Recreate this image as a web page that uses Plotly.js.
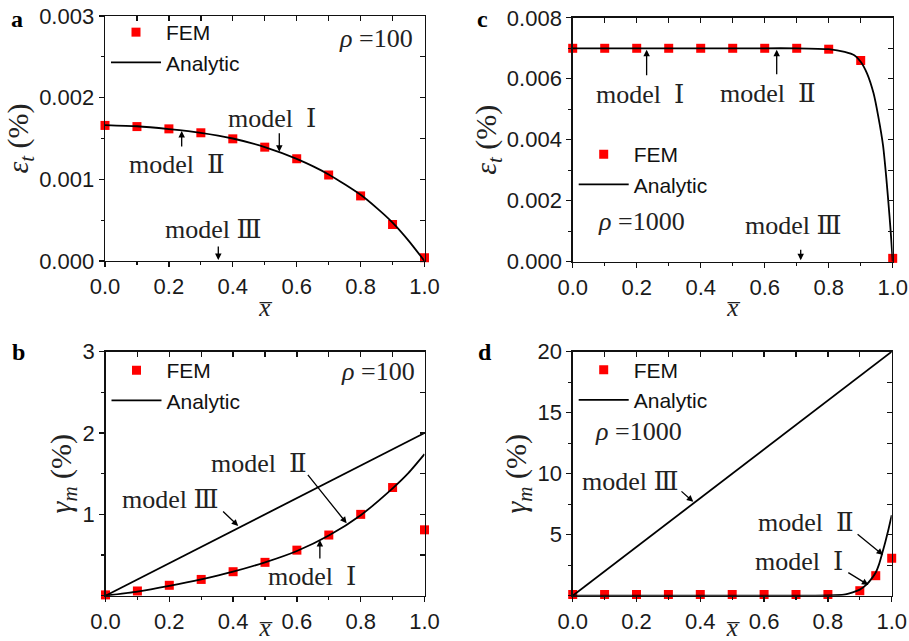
<!DOCTYPE html>
<html>
<head>
<meta charset="utf-8">
<script src="https://cdn.plot.ly/plotly-3.0.1.min.js"></script>
<style>
  html, body { margin: 0; padding: 0; background: #fff; }
  #chart { width: 909px; height: 641px; }
</style>
</head>
<body>
<div id="chart"></div>
<script>
// ---- panel a : axial strain, rho = 100 ----
const xFemA = [0, 0.1, 0.2, 0.3, 0.4, 0.5, 0.6, 0.7, 0.8, 0.9, 1.0];
const yFemA = [0.00166, 0.001646, 0.001618, 0.00157, 0.001496, 0.001394, 0.001252, 0.001053, 0.000797, 0.000447, 0.00004];
const xAnaA = [0, 0.1, 0.2, 0.3, 0.4, 0.5, 0.6, 0.7, 0.8, 0.85, 0.9, 0.95, 1.0];
const yAnaA = [0.001665, 0.00165, 0.001615, 0.00157, 0.0015, 0.001395, 0.00125, 0.00106, 0.00081, 0.00065, 0.00047, 0.00025, 0];

// ---- panel b : shear strain, rho = 100 ----
const xFemB = [0, 0.1, 0.2, 0.3, 0.4, 0.5, 0.6, 0.7, 0.8, 0.9, 1.0];
const yFemB = [0.01, 0.058, 0.128, 0.2, 0.295, 0.41, 0.56, 0.746, 1.0, 1.33, 0.81];
const xAnaB = [0, 0.1, 0.2, 0.3, 0.4, 0.5, 0.6, 0.7, 0.8, 0.9, 0.95, 1.0];
const yAnaB = [0, 0.05, 0.12, 0.2, 0.295, 0.41, 0.55, 0.74, 0.99, 1.32, 1.51, 1.74];
const xLinB = [0, 0.5, 1.0];
const yLinB = [0, 1.0, 2.0];

// ---- panel c : axial strain, rho = 1000 ----
const xFemC = [0, 0.1, 0.2, 0.3, 0.4, 0.5, 0.6, 0.7, 0.8, 0.9, 1.0];
const yFemC = [0.0070, 0.0070, 0.0070, 0.0070, 0.0070, 0.0070, 0.0070, 0.0070, 0.00697, 0.0066, 0.00011];
const xAnaC = [0, 0.1, 0.2, 0.3, 0.4, 0.5, 0.6, 0.7, 0.8, 0.85, 0.88, 0.9, 0.92, 0.94, 0.955, 0.97, 0.98, 0.99, 0.995, 1.0];
const yAnaC = [0.0070, 0.0070, 0.0070, 0.0070, 0.0070, 0.0070, 0.0070, 0.0070, 0.00697, 0.00688, 0.00677, 0.00656, 0.00617, 0.00553, 0.00476, 0.0038, 0.00275, 0.0015, 0.0008, 0];

// ---- panel d : shear strain, rho = 1000 ----
const xFemD = [0, 0.1, 0.2, 0.3, 0.4, 0.5, 0.6, 0.7, 0.8, 0.9, 0.95, 1.0];
const yFemD = [0.1, 0.1, 0.1, 0.1, 0.1, 0.1, 0.1, 0.1, 0.1, 0.41, 1.64, 3.07];
const xAnaD = [0, 0.1, 0.2, 0.3, 0.4, 0.5, 0.6, 0.7, 0.75, 0.8, 0.85, 0.88, 0.9, 0.92, 0.94, 0.95, 0.96, 0.97, 0.98, 0.99, 1.0];
const yAnaD = [0, 0, 0, 0, 0, 0, 0, 0, 0.01, 0.02, 0.08, 0.3, 0.5, 0.88, 1.5, 1.9, 2.55, 3.45, 4.4, 5.45, 6.6];
const xLinD = [0, 0.5, 1.0];
const yLinD = [0, 10, 20];

const xTickVals = [0, 0.2, 0.4, 0.6, 0.8, 1.0];

const RED = '#ff0000';
const SANS = 'Liberation Sans, Arial, sans-serif';
const SERIF = 'Liberation Serif, DejaVu Serif, Times New Roman, serif';
const INK = '#111';

function fem(x, y, xa, ya, lg) {
  return { x, y, xaxis: xa, yaxis: ya, legend: lg, name: 'FEM', type: 'scatter', mode: 'markers',
    marker: { symbol: 'square', color: RED, size: 9 }, cliponaxis: false };
}
function ana(x, y, xa, ya, lg, show, shape) {
  return { x, y, xaxis: xa, yaxis: ya, legend: lg, name: 'Analytic', showlegend: show, type: 'scatter', mode: 'lines',
    line: { color: '#000', width: 1.8, shape: shape || 'spline', smoothing: 0.6 }, cliponaxis: false };
}

const data = [
  fem(xFemA, yFemA, 'x', 'y', 'legend'),
  ana(xAnaA, yAnaA, 'x', 'y', 'legend', true),
  fem(xFemB, yFemB, 'x2', 'y2', 'legend2'),
  ana(xAnaB, yAnaB, 'x2', 'y2', 'legend2', true),
  ana(xLinB, yLinB, 'x2', 'y2', 'legend2', false, 'linear'),
  fem(xFemC, yFemC, 'x3', 'y3', 'legend3'),
  ana(xAnaC, yAnaC, 'x3', 'y3', 'legend3', true),
  fem(xFemD, yFemD, 'x4', 'y4', 'legend4'),
  ana(xAnaD, yAnaD, 'x4', 'y4', 'legend4', true),
  ana(xLinD, yLinD, 'x4', 'y4', 'legend4', false, 'linear'),
];

// domains of the four panels (paper fractions)
const W = 909, H = 641;
const dom = {
  a: { x: [105 / W, 424.5 / W], y: [1 - 261 / H, 1 - 16 / H] },
  b: { x: [105.5 / W, 424.5 / W], y: [1 - 595.7 / H, 1 - 351.7 / H] },
  c: { x: [572.7 / W, 892.7 / W], y: [1 - 261.7 / H, 1 - 17.8 / H] },
  d: { x: [572.7 / W, 891.7 / W], y: [1 - 595.7 / H, 1 - 351.7 / H] },
};

const tickFont = { family: SANS, size: 22, color: '#1a1a1a' };

function xAxis(d, anchor) {
  return {
    domain: d.x, anchor, range: [0, 1], showgrid: false, zeroline: false,
    showline: true, linecolor: INK, linewidth: 1.4, mirror: true,
    tickmode: 'array', tickvals: xTickVals, tickformat: '.1f',
    ticks: 'outside', ticklen: 5, tickwidth: 1.3, tickcolor: INK,
    minor: { tickmode: 'linear', tick0: 0, dtick: 0.1, ticks: 'outside', ticklen: 3, tickwidth: 1.2, tickcolor: INK },
    tickfont: tickFont,
    title: { text: '<i>x̅</i>', font: { family: SERIF, size: 25, color: '#222' }, standoff: 0 },
  };
}
function yAxis(d, anchor, range, tickvals, fmt, minorDt, title) {
  return {
    domain: d.y, anchor, range, showgrid: false, zeroline: false,
    showline: true, linecolor: INK, linewidth: 1.4, mirror: true,
    tickmode: 'array', tickvals, tickformat: fmt,
    ticks: 'outside', ticklen: 5, tickwidth: 1.3, tickcolor: INK,
    minor: { tickmode: 'linear', tick0: 0, dtick: minorDt, ticks: 'outside', ticklen: 3, tickwidth: 1.2, tickcolor: INK },
    tickfont: tickFont,
    title: { text: title, font: { family: SERIF, size: 30, color: '#222' }, standoff: 1 },
  };
}
// inward ticks drawn on the top and right frame edges
function xTop(base, d, anchor) {
  return {
    overlaying: base, anchor, side: 'top', domain: d.x, range: [0, 1], showgrid: false, zeroline: false,
    showline: false, showticklabels: false, tickmode: 'linear', tick0: 0, dtick: 0.1,
    ticks: 'inside', ticklen: 5, tickwidth: 1.3, tickcolor: INK,
  };
}
function yRight(base, d, anchor, range, dt) {
  return {
    overlaying: base, anchor, side: 'right', domain: d.y, range, showgrid: false, zeroline: false,
    showline: false, showticklabels: false, tickmode: 'linear', tick0: 0, dtick: dt,
    ticks: 'inside', ticklen: 5, tickwidth: 1.3, tickcolor: INK,
  };
}

const epsTitle = '<i>ε<sub>t</sub></i> (%)';
const gamTitle = '<i>γ<sub>m</sub></i> (%)';

// extra empty traces so the overlay axes get drawn
for (const [xa, ya] of [['x5', 'y'], ['x', 'y5'], ['x6', 'y2'], ['x2', 'y6'], ['x7', 'y3'], ['x3', 'y7'], ['x8', 'y4'], ['x4', 'y8']]) {
  data.push({ x: [], y: [], xaxis: xa, yaxis: ya, type: 'scatter', mode: 'markers', showlegend: false, hoverinfo: 'skip' });
}

const legendBase = {
  bgcolor: 'rgba(0,0,0,0)', borderwidth: 0, xanchor: 'left', yanchor: 'top',
  font: { family: SANS, size: 21, color: '#111' }, itemwidth: 50, tracegroupgap: 0,
};

const serifFont = { family: SERIF, size: 26, color: '#222' };

function label(xref, yref, x, y, text) {
  return { xref, yref, x, y, text, showarrow: false, font: serifFont, xanchor: 'center', yanchor: 'middle' };
}
function arrow(xref, yref, x, y, ax, ay) {
  return { xref, yref, x, y, ax, ay, text: '', showarrow: true, arrowhead: 2, arrowsize: 1, arrowwidth: 1.3, arrowcolor: '#000' };
}
function panelTag(x, y, text) {
  return { xref: 'paper', yref: 'paper', x: x / W, y: 1 - y / H, text: '<b>' + text + '</b>', showarrow: false,
    font: { family: SERIF, size: 24, color: '#000' }, xanchor: 'center', yanchor: 'middle' };
}

const annotations = [
  panelTag(17, 19, 'a'), panelTag(18, 352, 'b'), panelTag(482, 19, 'c'), panelTag(485, 352, 'd'),
  // panel a
  label('x', 'y', 0.848, 0.00272, '<i>ρ</i> =100'),
  label('x', 'y', 0.5217, 0.001747, 'model  Ⅰ'),
  arrow('x', 'y', 0.5455, 0.001338, 0, -20),
  label('x', 'y', 0.2244, 0.001184, 'model  Ⅱ'),
  arrow('x', 'y', 0.240, 0.001592, 0, 17),
  label('x', 'y', 0.339, 0.00038, 'model Ⅲ'),
  arrow('x', 'y', 0.3546, 0.000012, 0, -15),
  // panel b
  label('x2', 'y2', 0.854, 2.754, '<i>ρ</i> =100'),
  label('x2', 'y2', 0.48, 1.63, 'model  Ⅱ'),
  arrow('x2', 'y2', 0.756, 0.89, -40, -50),
  label('x2', 'y2', 0.205, 1.18, 'model Ⅲ'),
  arrow('x2', 'y2', 0.416, 0.857, -16.6, -16),
  label('x2', 'y2', 0.648, 0.234, 'model  Ⅰ'),
  arrow('x2', 'y2', 0.672, 0.685, 0, 20),
  // panel c
  label('x3', 'y3', 0.2156, 0.001313, '<i>ρ</i> =1000'),
  label('x3', 'y3', 0.2103, 0.00547, 'model  Ⅰ'),
  arrow('x3', 'y3', 0.231, 0.00695, 0, 27),
  label('x3', 'y3', 0.611, 0.00553, 'model  Ⅱ'),
  arrow('x3', 'y3', 0.6375, 0.00695, 0, 26),
  label('x3', 'y3', 0.689, 0.0012, 'model Ⅲ'),
  arrow('x3', 'y3', 0.7125, 0.00005, 0, -12),
  // panel d
  label('x4', 'y4', 0.2057, 13.44, '<i>ρ</i> =1000'),
  label('x4', 'y4', 0.73, 5.96, 'model  Ⅱ'),
  arrow('x4', 'y4', 0.973, 3.34, -27, -22),
  label('x4', 'y4', 0.709, 2.79, 'model  Ⅰ'),
  arrow('x4', 'y4', 0.927, 0.88, -21.6, -13.3),
  label('x4', 'y4', 0.182, 9.34, 'model Ⅲ'),
  arrow('x4', 'y4', 0.378, 7.7, -13.3, -11.7),
];

const layout = {
  width: W, height: H,
  margin: { l: 0, r: 0, t: 0, b: 0, pad: 0 },
  paper_bgcolor: '#fff', plot_bgcolor: 'rgba(0,0,0,0)',
  showlegend: true,
  xaxis: xAxis(dom.a, 'y'),
  yaxis: yAxis(dom.a, 'x', [0, 0.003], [0, 0.001, 0.002, 0.003], '.3f', 0.0005, epsTitle),
  xaxis2: xAxis(dom.b, 'y2'),
  yaxis2: yAxis(dom.b, 'x2', [0, 3], [1, 2, 3], 'd', 0.5, gamTitle),
  xaxis3: xAxis(dom.c, 'y3'),
  yaxis3: yAxis(dom.c, 'x3', [0, 0.008], [0, 0.002, 0.004, 0.006, 0.008], '.3f', 0.001, epsTitle),
  xaxis4: xAxis(dom.d, 'y4'),
  yaxis4: yAxis(dom.d, 'x4', [0, 20], [5, 10, 15, 20], 'd', 2.5, gamTitle),
  xaxis5: xTop('x', dom.a, 'y'),
  yaxis5: yRight('y', dom.a, 'x', [0, 0.003], 0.0005),
  xaxis6: xTop('x2', dom.b, 'y2'),
  yaxis6: yRight('y2', dom.b, 'x2', [0, 3], 0.5),
  xaxis7: xTop('x3', dom.c, 'y3'),
  yaxis7: yRight('y3', dom.c, 'x3', [0, 0.008], 0.001),
  xaxis8: xTop('x4', dom.d, 'y4'),
  yaxis8: yRight('y4', dom.d, 'x4', [0, 20], 2.5),
  legend: Object.assign({}, legendBase, { x: 106 / W, y: 1 - 12 / H }),
  legend2: Object.assign({}, legendBase, { x: 106.5 / W, y: 1 - 350 / H }),
  legend3: Object.assign({}, legendBase, { x: 573.7 / W, y: 1 - 134 / H }),
  legend4: Object.assign({}, legendBase, { x: 573.7 / W, y: 1 - 349.5 / H }),
  annotations,
};

Plotly.newPlot('chart', data, layout, { staticPlot: true, displayModeBar: false });
</script>
</body>
</html>
